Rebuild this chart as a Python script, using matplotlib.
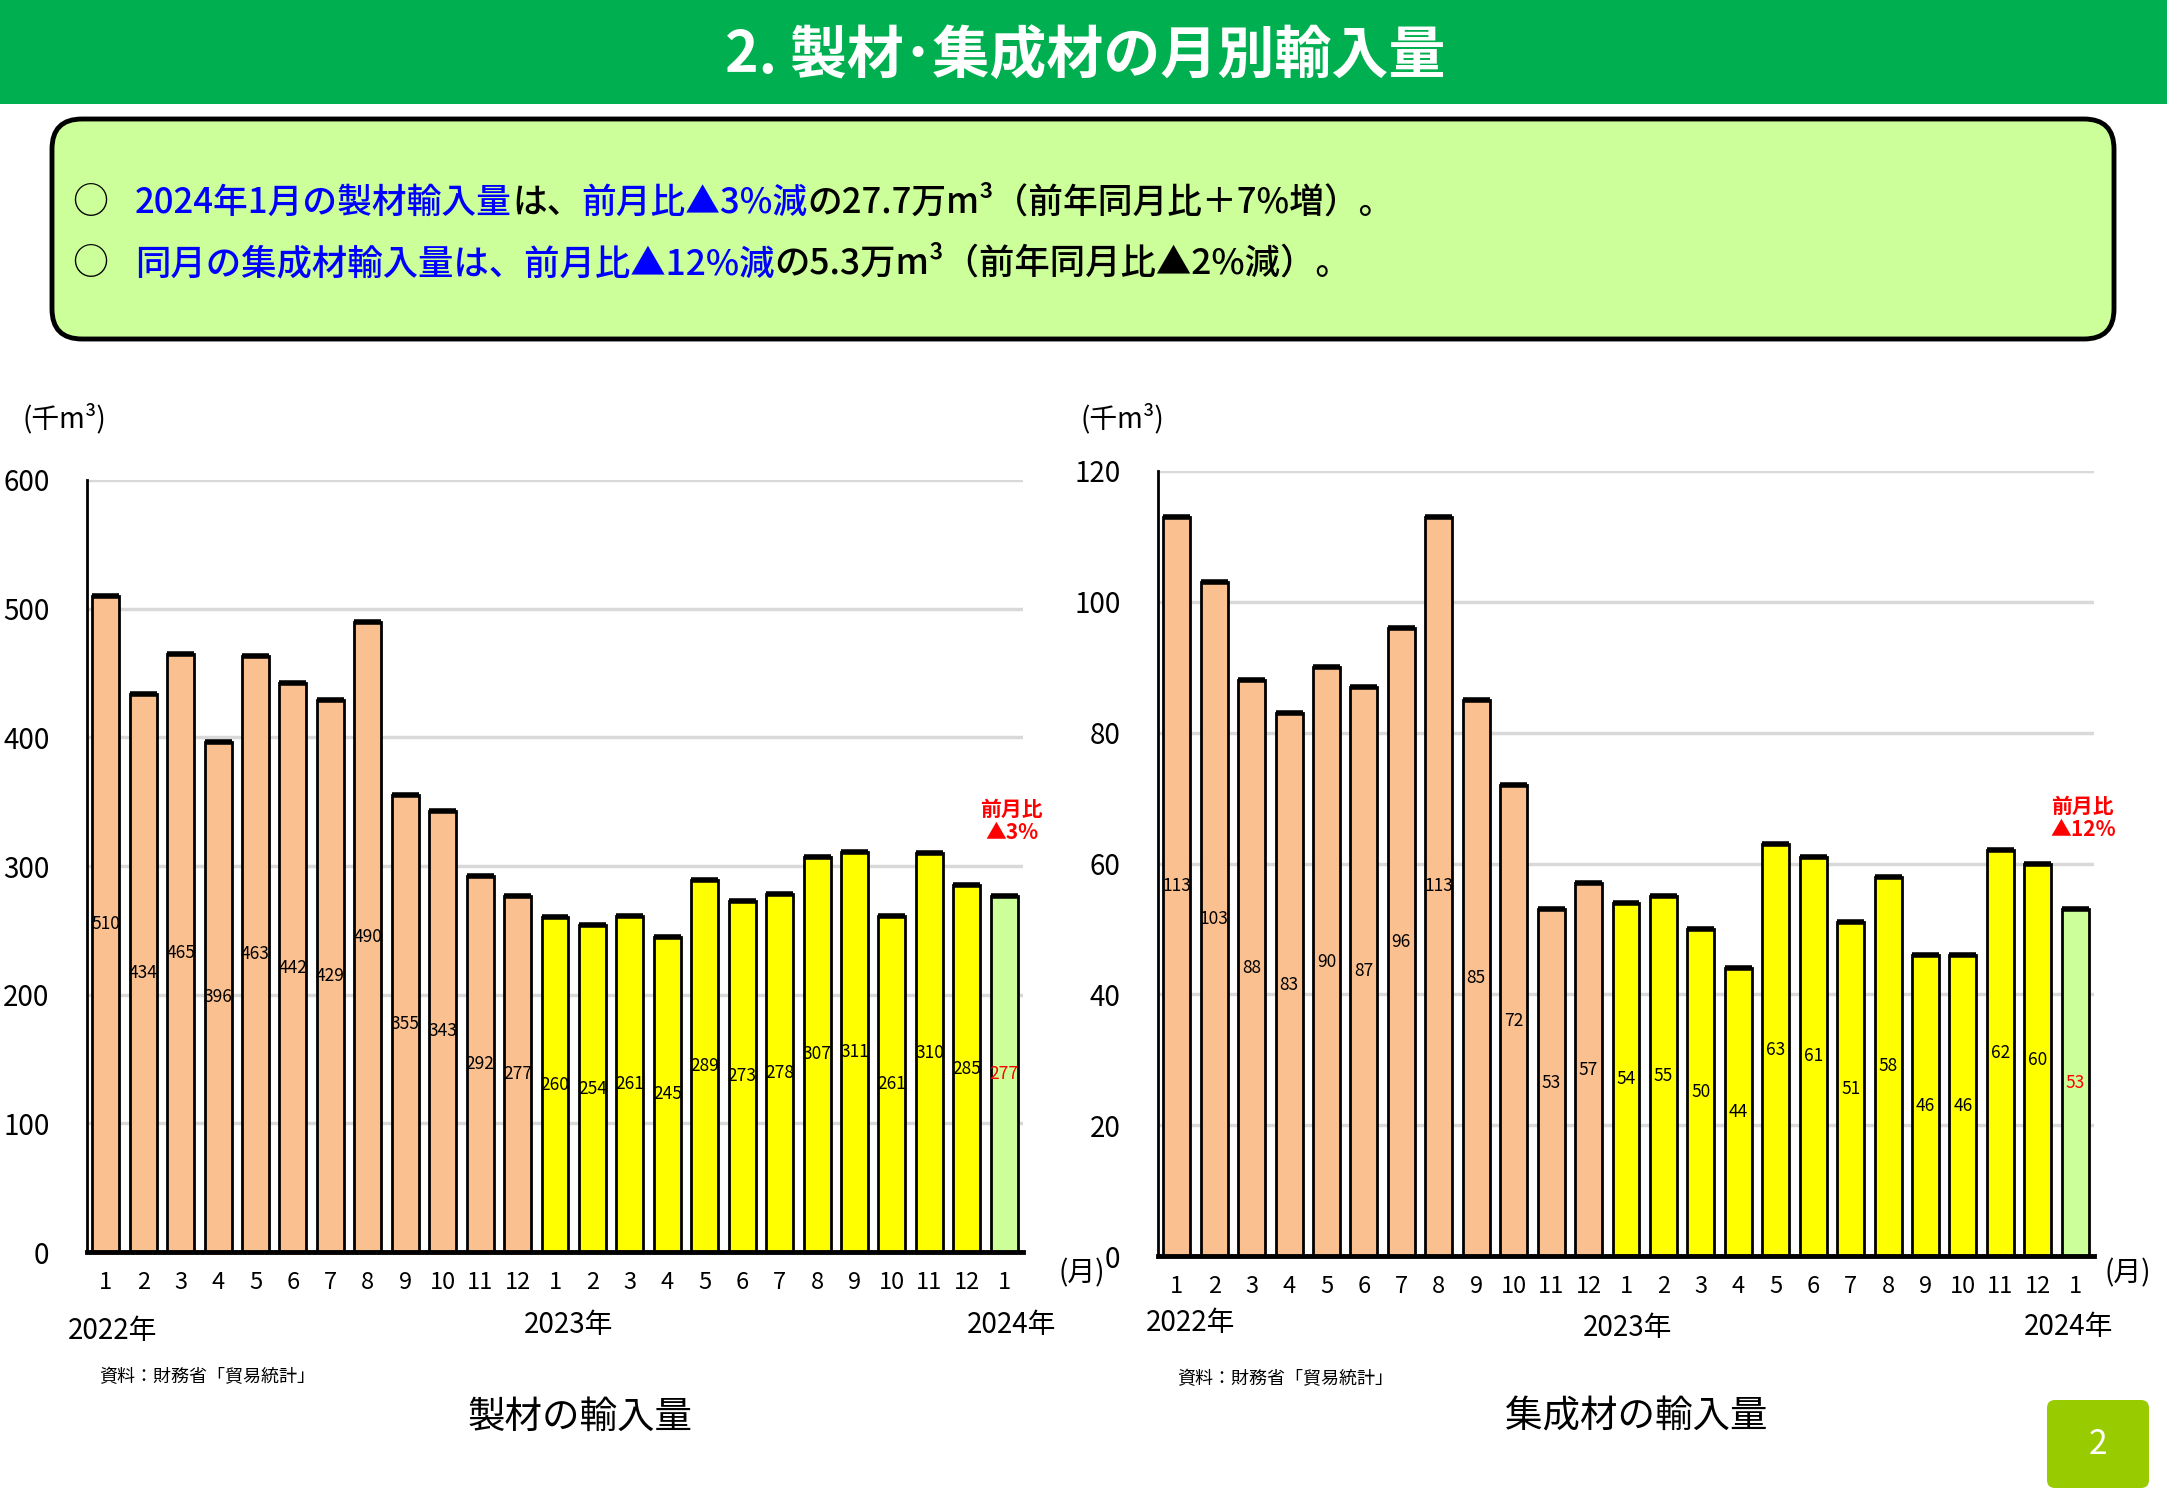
import matplotlib
matplotlib.use('Agg')
import matplotlib.pyplot as plt
from matplotlib.patches import FancyBboxPatch, Rectangle
import numpy as np

plt.rcParams['font.family'] = ['Noto Sans CJK JP', 'DejaVu Sans']

# data (thousand m3), Jan 2022 .. Jan 2024
months = ['1', '2', '3', '4', '5', '6', '7', '8', '9', '10', '11', '12',
          '1', '2', '3', '4', '5', '6', '7', '8', '9', '10', '11', '12', '1']
years = [2022] * 12 + [2023] * 12 + [2024]
lumber = [510, 434, 465, 396, 463, 442, 429, 490, 355, 343, 292, 277,
          260, 254, 261, 245, 289, 273, 278, 307, 311, 261, 310, 285, 277]
glulam = [113, 103, 88, 83, 90, 87, 96, 113, 85, 72, 53, 57,
          54, 55, 50, 44, 63, 61, 51, 58, 46, 46, 62, 60, 53]
year_colors = {2022: '#FAC090', 2023: '#FFFF00', 2024: '#CCFF99'}

W, H = 2167, 1500
fig = plt.figure(figsize=(W / 100, H / 100), dpi=100)

# overlay in pixel coords (y down)
ov = fig.add_axes([0, 0, 1, 1], zorder=0)
ov.set_xlim(0, W)
ov.set_ylim(H, 0)
ov.axis('off')

# header band
ov.add_patch(Rectangle((0, 0), W, 104, color='#00B050', lw=0))
ov.text(1085, 56, '2. 製材･集成材の月別輸入量', color='white', fontsize=41,
        fontweight='bold', ha='center', va='center')

# summary box
ov.add_patch(FancyBboxPatch((52, 119), 2062, 220, boxstyle='round,pad=0,rounding_size=30',
                            fc='#CCFF99', ec='black', lw=3.5))

blue = '#0000FF'
line1 = [('2024年1月の製材輸入量', blue), ('は、', 'black'), ('前月比▲3%減', blue),
         ('の27.7万m³（前年同月比＋7%増）。', 'black')]
line2 = [('同月の集成材輸入量は、前月比▲12%減', blue),
         ('の5.3万m³（前年同月比▲2%減）。', 'black')]

renderer = fig.canvas.get_renderer()


def chain_text(x, y, parts, size):
    for s, c in parts:
        t = ov.text(x, y, s, color=c, fontsize=size, fontweight='medium',
                    ha='left', va='center')
        x += t.get_window_extent(renderer=renderer).width


for yy, parts, fs in [(203, line1, 25), (264, line2, 25.5)]:
    ov.text(90, yy, '○', fontsize=26, ha='center', va='center')
    chain_text(135, yy, parts, fs)


def draw_chart(rect, values, ymax, step, note):
    ax = fig.add_axes(rect, zorder=1)
    x = np.arange(len(values))
    cols = [year_colors[y] for y in years]
    ax.bar(x, values, width=0.72, color=cols, edgecolor='black', linewidth=2, zorder=2)
    ax.hlines(values, x - 0.36, x + 0.36, color='black', lw=4, zorder=3)
    for i, v in enumerate(values):
        ax.text(i, v / 2, str(v), ha='center', va='center', fontsize=12.5,
                color='#FF0000' if i == len(values) - 1 else 'black', zorder=4)
    ax.set_xlim(-0.5, len(values) - 0.5)
    ax.set_ylim(0, ymax)
    ax.set_yticks(np.arange(0, ymax + 1, step))
    ax.yaxis.grid(True, color='#D9D9D9', lw=2.5)
    ax.set_axisbelow(True)
    ax.set_xticks(x)
    ax.set_xticklabels(months, fontsize=17)
    ax.tick_params(axis='x', length=0, pad=14)
    ax.tick_params(axis='y', length=0, pad=27, labelsize=20)
    for s in ['top', 'right']:
        ax.spines[s].set_visible(False)
    ax.spines['left'].set_linewidth(2)
    ax.spines['bottom'].set_linewidth(3.5)
    ax.patch.set_alpha(0)
    ax.text(len(values) - 1 + 0.2, note[1], note[0], ha='center', va='center',
            color='#FF0000', fontsize=15, fontweight='bold', linespacing=1.15)
    return ax


draw_chart([87 / W, 1 - 1252 / H, 936 / W, 772 / H], lumber, 600, 100, ('前月比\n▲3%', 335))
draw_chart([1158 / W, 1 - 1256 / H, 936 / W, 785 / H], glulam, 120, 20, ('前月比\n▲12%', 67))

# texts around the charts (pixel coords)
ov.text(64, 419, '(千m³)', fontsize=20, ha='center', va='center')
ov.text(1122, 419, '(千m³)', fontsize=20, ha='center', va='center')
ov.text(1082, 1273, '(月)', fontsize=20, ha='center', va='center')
ov.text(2128, 1273, '(月)', fontsize=20, ha='center', va='center')

year_pos = [(113, 1331, '2022年'), (569, 1325, '2023年'), (1012, 1325, '2024年'),
            (1191, 1323, '2022年'), (1628, 1328, '2023年'), (2069, 1327, '2024年')]
for xx, yy, s in year_pos:
    ov.text(xx, yy, s, fontsize=20, ha='center', va='center')

ov.text(207, 1377, '資料：財務省「貿易統計」', fontsize=13, ha='center', va='center')
ov.text(1285, 1379, '資料：財務省「貿易統計」', fontsize=13, ha='center', va='center')
ov.text(580, 1417, '製材の輸入量', fontsize=27, ha='center', va='center')
ov.text(1636, 1417, '集成材の輸入量', fontsize=27, ha='center', va='center')

# page number
ov.add_patch(FancyBboxPatch((2047, 1400), 102, 88, boxstyle='round,pad=0,rounding_size=8',
                            fc='#99CC00', ec='none'))
ov.text(2098, 1444, '2', color='white', fontsize=24, ha='center', va='center')

fig.savefig('out.png', dpi=100)
